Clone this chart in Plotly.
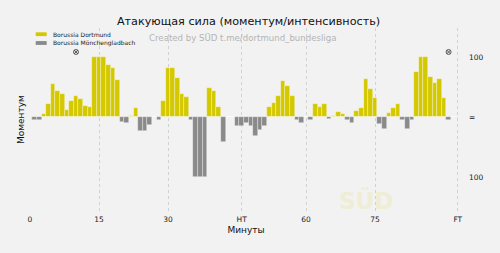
import plotly.graph_objects as go

minutes = list(range(1, 93))

dortmund = [0, 0, 5, 23, 55, 44, 39, 12, 27, 36,
            31, 19, 17, 100, 100, 100, 87, 82, 63, 0,
            0, 3, 15, 0, 0, 0, 0, 0, 28, 82,
            82, 66, 39, 34, 0, 0, 0, 0, 49, 44,
            17, 0, 0, 0, 0, 0, 0, 0, 0, 0,
            0, 17, 24, 36, 61, 52, 36, 0, 0, 0,
            0, 23, 17, 23, 0, 3, 9, 6, 0, 0,
            11, 16, 64, 48, 32, 0, 0, 7, 16, 22,
            0, 0, 0, 76, 100, 100, 68, 57, 64, 32,
            0, 1]

gladbach = [4.5, 4.5, 0, 0, 0, 0, 0, 0, 0, 0,
            0, 0, 0, 0, 0, 0, 0, 0, 0, 7,
            10, 0, 0, 23, 23, 13, 0, 4.5, 0, 0,
            0, 0, 0, 0, 4.5, 100, 100, 100, 0, 0,
            0, 42, 0, 0, 15, 15, 10, 15, 32, 21,
            15, 0, 0, 0, 0, 0, 0, 4.5, 10, 0,
            4.5, 0, 0, 0, 3, 0, 0, 0, 4.5, 10,
            0, 0, 0, 0, 0, 11, 19, 0, 0, 0,
            4, 19, 4, 0, 0, 0, 0, 0, 0, 0,
            5, 0]

goal_minutes = [10, 91]
goal_level = [109, 109]

tick_vals = [0, 15, 30, 46, 60, 75, 93]
tick_text = ["0", "15", "30", "HT", "60", "75", "FT"]

team_names = ["Borussia Dortmund", "Borussia Mönchengladbach"]
team_colors = ["#d4c800", "#8a8a8a"]

BG = "#f2f2f2"
FONT = "DejaVu Sans"

fig = go.Figure()
fig.add_bar(x=minutes, y=dortmund, width=1, marker_color=team_colors[0],
            marker_line=dict(color="rgba(255,255,255,0.55)", width=0.6),
            name=team_names[0], showlegend=False)
fig.add_bar(x=minutes, y=[-v for v in gladbach], width=1, marker_color=team_colors[1],
            marker_line=dict(color="rgba(255,255,255,0.55)", width=0.6),
            name=team_names[1], showlegend=False)
fig.add_scatter(x=goal_minutes, y=goal_level, mode="markers",
                marker=dict(symbol="circle-x", size=5, color="#e8e8e8",
                            line=dict(color="#3a3a3a", width=0.8)),
                showlegend=False, hoverinfo="skip")

# manual legend (paper coords)
plot_l, plot_w, plot_t, plot_h = 30, 432, 28, 184
def px(x):
    return (x - plot_l) / plot_w
def py(y):
    return (plot_t + plot_h - y) / plot_h

for i, (nm, col) in enumerate(zip(team_names, team_colors)):
    yc = 34.2 + i * 8.8
    fig.add_shape(type="rect", xref="paper", yref="paper",
                  x0=px(35.7), x1=px(46.7), y0=py(yc - 1.9), y1=py(yc + 1.9),
                  fillcolor=col, line=dict(width=0))
    fig.add_annotation(xref="paper", yref="paper", x=px(50.5), y=py(yc),
                       text=nm, showarrow=False, xanchor="left", yanchor="middle",
                       font=dict(family=FONT, size=6, color="#222222"))

fig.add_annotation(xref="paper", yref="paper", x=px(242), y=py(38),
                   text="Created by SÜD t.me/dortmund_bundesliga", showarrow=False,
                   xanchor="center", yanchor="middle",
                   font=dict(family=FONT, size=8.6, color="#b4b4b4"))

fig.add_annotation(xref="paper", yref="paper", x=px(366), y=py(200),
                   text="<b>SÜD</b>", showarrow=False, xanchor="center", yanchor="middle",
                   font=dict(family=FONT, size=23, color="#efedd3"))

fig.update_layout(
    width=500, height=253,
    margin=dict(l=plot_l, r=500 - plot_l - plot_w, t=plot_t, b=253 - plot_t - plot_h),
    paper_bgcolor=BG, plot_bgcolor=BG,
    barmode="overlay", bargap=0,
    font=dict(family=FONT, color="#222222"),
    title=dict(text="Атакующая сила (моментум/интенсивность)",
               x=0.497, xanchor="center", y=1 - 21 / 253, yanchor="middle",
               font=dict(family=FONT, size=11.2, color="#111111")),
    xaxis=dict(range=[0, plot_w / 4.6], tickvals=tick_vals, ticktext=tick_text,
               showgrid=True, gridcolor="#d2d2d2", griddash="dot", gridwidth=0.8,
               zeroline=False, showline=False, ticks="",
               tickfont=dict(size=7.5, color="#222222"), ticklabelstandoff=1,
               title=dict(text="Минуты", font=dict(size=9, color="#111111"), standoff=4)),
    yaxis=dict(range=[-158, 149], side="right", tickvals=[100, 0, -100],
               ticktext=["100", "=", "100"], showgrid=False, zeroline=False,
               showline=False, ticks="", ticklabelstandoff=6,
               tickfont=dict(size=7.5, color="#222222")),
)
fig.add_annotation(xref="paper", yref="paper", x=px(21), y=py(120),
                   text="Моментум", showarrow=False, textangle=-90,
                   xanchor="center", yanchor="middle",
                   font=dict(family=FONT, size=9, color="#111111"))

fig.write_html("out.html")
